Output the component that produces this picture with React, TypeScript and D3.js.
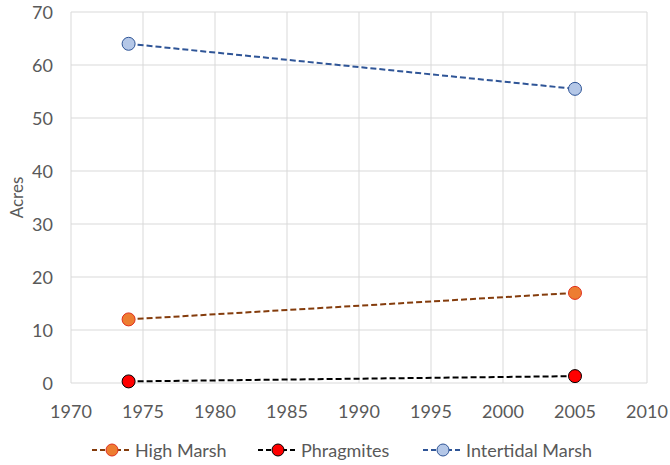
import React, { useEffect, useRef } from "react";
import * as d3 from "d3";

const years = [1974, 2005];
const highMarsh = [12, 17];
const phragmites = [0.3, 1.3];
const intertidal = [64, 55.5];
const xTicks = [1970, 1975, 1980, 1985, 1990, 1995, 2000, 2005, 2010];
const yTicks = [0, 10, 20, 30, 40, 50, 60, 70];

const seriesList = [
  { name: "High Marsh", values: highMarsh, line: "#843C0C", fill: "#ED7D31", stroke: "#E0301E" },
  { name: "Phragmites", values: phragmites, line: "#000000", fill: "#FF0000", stroke: "#000000" },
  { name: "Intertidal Marsh", values: intertidal, line: "#2F5597", fill: "#B4C7E7", stroke: "#2F5597" },
];

const W = 670;
const H = 465;
const font = "Lato, 'Open Sans', sans-serif";

export default function App() {
  const svgRef = useRef<SVGSVGElement>(null);

  useEffect(() => {
    if (!svgRef.current) return;
    const svg = d3.select(svgRef.current);
    svg.selectAll("*").remove();

    const margin = { top: 12, right: 23, bottom: 82, left: 71 };
    const x = d3.scaleLinear().domain([1970, 2010]).range([margin.left, W - margin.right]);
    const y = d3.scaleLinear().domain([0, 70]).range([H - margin.bottom, margin.top]);

    const grid = svg.append("g");
    grid.selectAll(".vg")
      .data(xTicks)
      .enter()
      .append("line")
      .attr("x1", d => x(d))
      .attr("x2", d => x(d))
      .attr("y1", y(0))
      .attr("y2", y(70))
      .attr("stroke", "#d9d9d9")
      .attr("stroke-width", 1);
    grid.selectAll(".hg")
      .data(yTicks)
      .enter()
      .append("line")
      .attr("x1", x(1970))
      .attr("x2", x(2010))
      .attr("y1", d => y(d))
      .attr("y2", d => y(d))
      .attr("stroke", "#d9d9d9")
      .attr("stroke-width", 1);

    // tick labels
    svg.append("g")
      .selectAll("text")
      .data(xTicks)
      .enter()
      .append("text")
      .attr("x", d => x(d))
      .attr("y", y(0) + 35)
      .attr("text-anchor", "middle")
      .attr("fill", "#595959")
      .style("font-family", font)
      .style("font-size", "18px")
      .text(d => d);

    svg.append("g")
      .selectAll("text")
      .data(yTicks)
      .enter()
      .append("text")
      .attr("x", 53)
      .attr("y", d => y(d) + 6.5)
      .attr("text-anchor", "end")
      .attr("fill", "#595959")
      .style("font-family", font)
      .style("font-size", "18px")
      .text(d => d);

    svg.append("text")
      .attr("transform", `translate(23,${(y(0) + y(70)) / 2}) rotate(-90)`)
      .attr("text-anchor", "middle")
      .attr("fill", "#595959")
      .style("font-family", font)
      .style("font-size", "17px")
      .text("Acres");

    const line = d3.line<number>()
      .x((_, i) => x(years[i]))
      .y(d => y(d));

    seriesList.forEach(s => {
      svg.append("path")
        .datum(s.values)
        .attr("d", line)
        .attr("fill", "none")
        .attr("stroke", s.line)
        .attr("stroke-width", 2)
        .attr("stroke-dasharray", "6,3");
      svg.selectAll(null)
        .data(s.values)
        .enter()
        .append("circle")
        .attr("cx", (_, i) => x(years[i]))
        .attr("cy", d => y(d))
        .attr("r", 6.5)
        .attr("fill", s.fill)
        .attr("stroke", s.stroke)
        .attr("stroke-width", 1);
    });

    // legend
    const legendX = [92, 258, 423];
    const ly = 450;
    seriesList.forEach((s, i) => {
      const g = svg.append("g").attr("transform", `translate(${legendX[i]},${ly})`);
      g.append("line")
        .attr("x1", 0)
        .attr("x2", 40)
        .attr("y1", 0)
        .attr("y2", 0)
        .attr("stroke", s.line)
        .attr("stroke-width", 2)
        .attr("stroke-dasharray", "5,3");
      g.append("circle")
        .attr("cx", 20)
        .attr("cy", 0)
        .attr("r", 6)
        .attr("fill", s.fill)
        .attr("stroke", s.stroke)
        .attr("stroke-width", 1);
      g.append("text")
        .attr("x", 43)
        .attr("y", 6.5)
        .attr("fill", "#595959")
        .style("font-family", font)
        .style("font-size", "18px")
        .text(s.name);
    });
  }, []);

  return (
    <svg
      ref={svgRef}
      width={W}
      height={H}
      style={{ position: "absolute", top: 0, left: 0, display: "block", background: "#fff" }}
    />
  );
}
